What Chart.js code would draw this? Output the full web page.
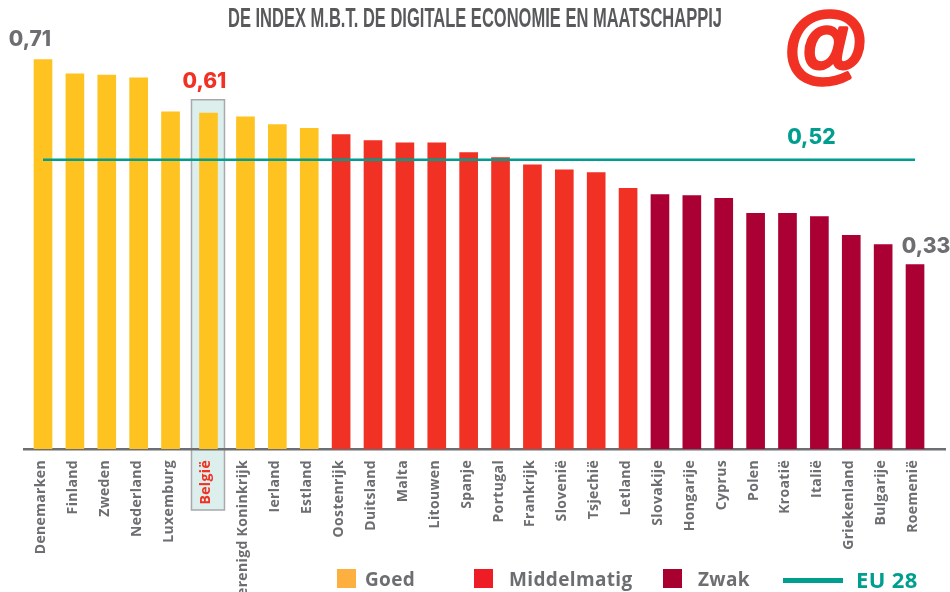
<!DOCTYPE html>
<html><head><meta charset="utf-8">
<style>html,body{margin:0;padding:0;background:#fff;overflow:hidden}canvas{display:block}</style>
<script src="https://cdn.jsdelivr.net/npm/chart.js@4"></script>
</head><body><canvas id="c" width="950" height="592"></canvas>
<script>
const countries = ["Denemarken","Finland","Zweden","Nederland","Luxemburg","België","Verenigd Koninkrijk","Ierland","Estland","Oostenrijk","Duitsland","Malta","Litouwen","Spanje","Portugal","Frankrijk","Slovenië","Tsjechië","Letland","Slovakije","Hongarije","Cyprus","Polen","Kroatië","Italië","Griekenland","Bulgarije","Roemenië"];
const indexValues = [0.707,0.681,0.679,0.674,0.612,0.61,0.603,0.589,0.582,0.571,0.56,0.556,0.556,0.538,0.529,0.516,0.507,0.502,0.473,0.462,0.46,0.455,0.428,0.428,0.422,0.388,0.371,0.335];
const tiers = ["Goed","Goed","Goed","Goed","Goed","Goed","Goed","Goed","Goed","Middelmatig","Middelmatig","Middelmatig","Middelmatig","Middelmatig","Middelmatig","Middelmatig","Middelmatig","Middelmatig","Middelmatig","Zwak","Zwak","Zwak","Zwak","Zwak","Zwak","Zwak","Zwak","Zwak"];
const euAverage = 0.525;
const chartTitle = "DE INDEX M.B.T. DE DIGITALE ECONOMIE EN MAATSCHAPPIJ";
const tierColors = {Goed:"#fec221",Middelmatig:"#f03124",Zwak:"#aa0033"};
const legendSwatch = {Goed:"#fdb040",Middelmatig:"#ee1c25",Zwak:"#a8002f"};
const GREY="#6d6e71", RED="#f03124", TEAL="#009e8e";
const FONT='"Open Sans"';
// België staat iets los van zijn buren
const slot = i => i + (i>=5?0.19:0) + (i>=6?0.16:0);

const annotations = {
  id:"annotations",
  beforeDraw(ch){
    const {ctx,scales:{x,y}} = ch;
    ctx.letterSpacing="0.35px";
    const cx = x.getPixelForValue(slot(5))-0.5;
    ctx.save();
    ctx.fillStyle="#dcefec"; ctx.strokeStyle="#a7a9ac"; ctx.lineWidth=1.5;
    const top=y.getPixelForValue(0.634), bottom=y.getPixelForValue(0)+61;
    ctx.fillRect(cx-16.5,top,33,bottom-top);
    ctx.strokeRect(cx-16.5,top,33,bottom-top);
    ctx.restore();
  },
  afterDraw(ch){
    const {ctx,scales:{x,y}} = ch;
    const t=(s,px,py,col,font,al)=>{ctx.fillStyle=col;ctx.font=font;ctx.textAlign=al||"left";ctx.textBaseline="alphabetic";ctx.fillText(s,px,py);};
    ctx.save();
    const lf='bold 19px '+FONT;
    [["Goed",337,365],["Middelmatig",474,509],["Zwak",663,698]].forEach(([n,sx,tx])=>{
      ctx.fillStyle=legendSwatch[n];ctx.fillRect(sx,569,19,19);
      t(n,tx,586,GREY,lf);
    });
    ctx.fillStyle=TEAL;ctx.fillRect(783,578,60,5);
    t("EU 28",856,588,TEAL,'bold 22px '+FONT);
    ctx.letterSpacing="0px";
    const lab='800 21px Inter';
    t("0,71",x.getPixelForValue(slot(0))-13,y.getPixelForValue(indexValues[0])-14,GREY,lab,"center");
    t("0,61",x.getPixelForValue(slot(5))-4,y.getPixelForValue(indexValues[5])-25,RED,lab,"center");
    t("0,52",x.getPixelForValue(slot(24))-8,y.getPixelForValue(euAverage)-16,TEAL,lab,"center");
    t("0,33",x.getPixelForValue(slot(27))+11,y.getPixelForValue(indexValues[27])-11,GREY,lab,"center");
    const af='bold 86px "Liberation Sans"';
    t("@",826,71,RED,af,"center");
    ctx.strokeStyle=RED;ctx.lineWidth=3.5;ctx.lineJoin="round";ctx.strokeText("@",826,71);
    // titel: smal gezet tot de breedte van de kop
    ctx.font='bold 27px "Liberation Sans"';
    const k=494/ctx.measureText(chartTitle).width;
    ctx.translate(475,27);ctx.scale(k,1);
    t(chartTitle,0,0,"#58595b",ctx.font,"center");
    ctx.restore();
  }
};

new Chart(document.getElementById("c"),{
  data:{datasets:[
    {type:"line",order:0,data:countries.map((_,i)=>({x:slot(i),y:euAverage})),borderColor:TEAL,borderWidth:2.5,pointRadius:0,tension:0},
    {type:"bar",order:1,data:indexValues.map((v,i)=>({x:slot(i),y:v})),backgroundColor:tiers.map(n=>tierColors[n]),barThickness:18}
  ]},
  options:{
    responsive:false,animation:false,
    layout:{padding:{left:24,right:5,top:32,bottom:0}},
    plugins:{legend:{display:false},tooltip:{enabled:false},title:{display:false}},
    scales:{
      x:{type:"linear",bounds:"data",offset:false,min:-0.596,max:28.29,
        grid:{display:false,offset:false},border:{display:true,color:GREY,width:2.5},
        afterBuildTicks:s=>{s.ticks=countries.map((_,i)=>({value:slot(i)}));},
        afterFit:s=>{s.height=143;},
        ticks:{autoSkip:false,maxRotation:90,minRotation:90,padding:3,labelOffset:-2,
          font:{family:FONT,size:14,weight:"bold"},
          color:c=>c.index===5?RED:GREY,
          callback:(v,i)=>countries[i]}},
      y:{display:false,min:0,max:0.757}
    }
  },
  plugins:[annotations]
});
</script></body></html>
